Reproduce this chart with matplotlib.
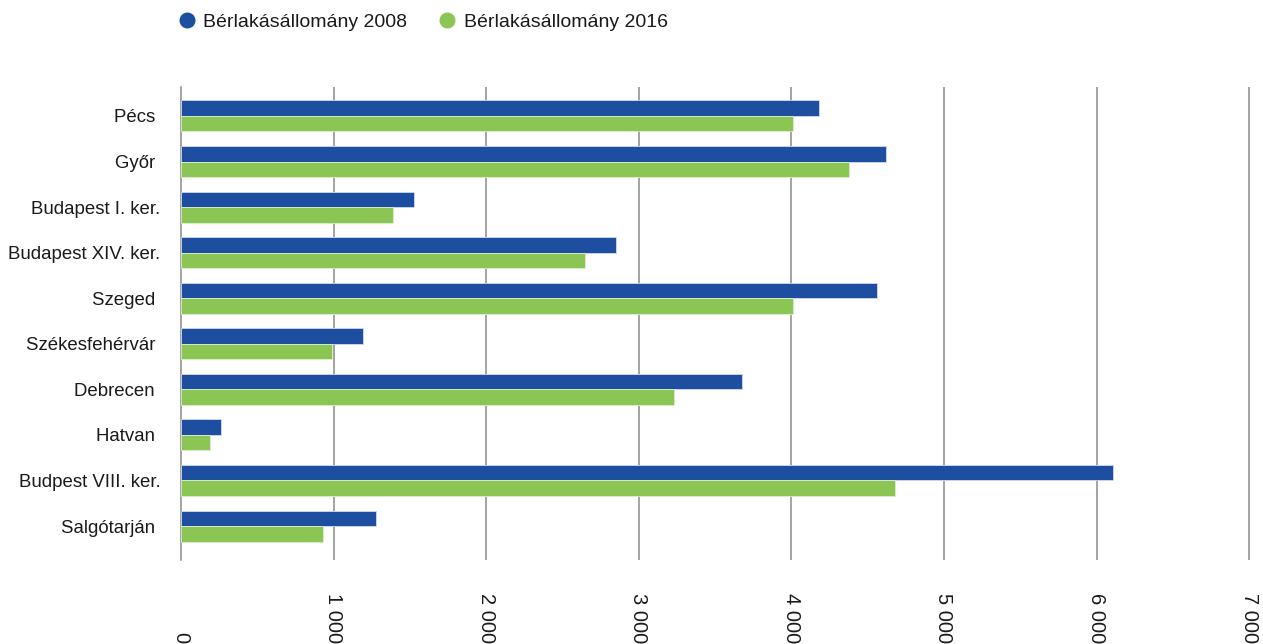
import numpy as np
import matplotlib.pyplot as plt
from matplotlib.lines import Line2D
import matplotlib.transforms as mtransforms

plt.rcParams['font.family'] = ['Liberation Sans', 'DejaVu Sans']

# rental housing stock per town, 2008 vs 2016
cities = ['Pécs ', 'Győr ', 'Budapest I. ker.', 'Budapest XIV. ker.', 'Szeged ',
          'Székesfehérvár ', 'Debrecen ', 'Hatvan ', 'Budpest VIII. ker.', 'Salgótarján ']
stock_2008 = [4180, 4620, 1530, 2850, 4560, 1190, 3675, 265, 6110, 1280]
stock_2016 = [4010, 4380, 1390, 2650, 4010, 990, 3230, 190, 4680, 930]
x_ticks = [0, 1000, 2000, 3000, 4000, 5000, 6000, 7000]
x_tick_labels = ['0', '1 000', '2 000', '3 000', '4 000', '5 000', '6 000', '7 000']

blue = '#1d4e9f'
green = '#8bc655'
grid_col = '#8a8a8a'

fig = plt.figure(figsize=(12.63, 6.44), dpi=100)
ax = fig.add_axes([181 / 1263, 84 / 644, 1072 / 1263, 473 / 644])

ind = np.arange(len(cities))
h = 0.34
ax.barh(ind - h / 2, stock_2008, h, color=blue, edgecolor='#d3d9ee', linewidth=0.6, zorder=3)
ax.barh(ind + h / 2, stock_2016, h, color=green, edgecolor='#dcefcf', linewidth=0.6, zorder=3)

ax.set_xlim(0, 7025)
ax.set_ylim(len(cities) - 1 + 0.746, -0.636)

for t in x_ticks[1:]:
    ax.axvline(t, color=grid_col, linewidth=1.1, zorder=1)

for side in ['top', 'right', 'bottom']:
    ax.spines[side].set_visible(False)
ax.spines['left'].set_color(grid_col)
ax.spines['left'].set_linewidth(1.1)

ax.set_yticks(ind)
ax.set_yticklabels(cities, fontsize=13.4, color='#1a1a1a')
ax.tick_params(axis='y', length=0, pad=15)
ax.set_xticks([])

# rotated value labels hanging at the bottom edge
trans = mtransforms.blended_transform_factory(ax.transData, fig.transFigure)
for t, lab in zip(x_ticks, x_tick_labels):
    ax.text(t, 1 / 644, lab, transform=trans, rotation=-90, ha='center', va='bottom',
            fontsize=14.5, color='#1a1a1a')

handles = [Line2D([], [], marker='o', linestyle='none', markersize=10.5, color=blue),
           Line2D([], [], marker='o', linestyle='none', markersize=10.5, color=green)]
fig.legend(handles, ['Bérlakásállomány 2008', 'Bérlakásállomány 2016'], ncol=2,
           loc='center left', bbox_to_anchor=(177 / 1263, 1 - 22 / 644), frameon=False,
           fontsize=14, handlelength=1.0, handletextpad=0.35, columnspacing=1.55,
           borderpad=0, borderaxespad=0, labelcolor='#1a1a1a')

fig.savefig('out.png', dpi=100)
